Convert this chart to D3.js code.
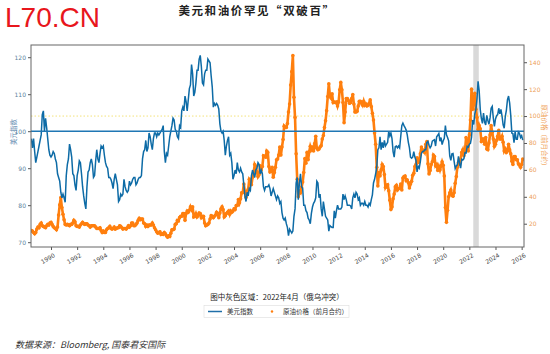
<!DOCTYPE html>
<html lang="zh">
<head>
<meta charset="utf-8">
<title>美元和油价罕见“双破百”</title>
<script src="https://d3js.org/d3.v7.min.js"></script>
<style>
    body { margin: 0; background: #fff; }
    .tick text { font-family: "DejaVu Sans", sans-serif; }
</style>
</head>
<body>
<div id="chart"></div>
<script>
// monthly values, first point = Jul 1988
const startYear = 1988.5;
const dxy = [
    98.0, 95.5, 98.0, 94.5, 91.5, 93.0,
    94.5, 96.0, 97.5, 99.0, 104.5, 105.5, 100.0, 103.5, 101.0, 98.0, 95.0, 93.5,
    93.0, 93.5, 94.5, 94.0, 92.5, 91.5, 88.5, 87.5, 86.5, 83.5, 82.0, 83.0,
    82.0, 80.8, 88.0, 91.0, 92.5, 96.5, 95.0, 93.0, 88.5, 88.0, 85.5, 84.0,
    88.0, 89.5, 92.0, 91.5, 88.5, 85.0, 82.5, 80.5, 79.0, 85.0, 89.0, 89.5,
    91.5, 92.5, 91.0, 87.5, 88.0, 92.0, 95.0, 92.5, 91.5, 94.0, 96.0, 95.5,
    96.0, 93.5, 91.5, 90.5, 90.0, 87.5, 87.5, 87.0, 86.0, 84.5, 87.0, 88.5,
    87.0, 85.5, 81.0, 81.5, 83.0, 82.5, 83.0, 87.0, 85.0, 84.0, 83.5, 84.0,
    86.5, 85.5, 86.0, 87.0, 87.5, 87.5, 85.5, 86.0, 87.0, 87.5, 87.5, 88.0,
    92.5, 94.5, 95.0, 97.5, 94.5, 95.5, 99.5, 98.5, 96.5, 95.0, 98.0, 99.5,
    99.5, 98.5, 99.5, 99.0, 99.5, 100.0, 100.5, 101.5, 94.5, 91.5, 94.0, 93.5,
    96.0, 98.5, 100.0, 101.5, 103.5, 103.0, 100.5, 100.0, 98.5, 98.0, 101.5, 101.0,
    105.5, 106.5, 105.5, 109.5, 108.0, 105.5, 108.5, 111.5, 112.5, 118.0, 115.5, 109.5,
    110.5, 113.0, 116.5, 116.5, 119.5, 120.5, 117.5, 113.0, 112.5, 115.5, 116.5, 116.5,
    119.5, 119.0, 118.5, 115.0, 112.0, 106.5, 107.5, 107.0, 107.5, 107.0, 106.0, 102.0,
    100.0, 99.5, 100.0, 97.5, 93.5, 96.0, 97.5, 98.5, 93.5, 94.0, 91.5, 87.0,
    88.0, 89.5, 88.5, 91.5, 89.5, 89.0, 90.0, 89.0, 88.5, 85.5, 82.5, 81.0,
    83.5, 82.5, 84.5, 84.0, 88.0, 89.5, 88.5, 87.5, 89.5, 90.0, 91.5, 91.0,
    88.5, 89.5, 88.5, 85.0, 84.0, 85.0, 85.0, 85.0, 85.5, 84.5, 82.5, 83.5,
    84.5, 83.5, 82.5, 81.5, 82.5, 82.0, 80.5, 81.0, 78.0, 76.5, 76.0, 76.5,
    75.0, 74.0, 71.8, 73.5, 73.0, 72.5, 73.0, 77.0, 79.0, 86.0, 87.5, 81.5,
    86.0, 88.5, 85.0, 84.5, 80.0, 80.0, 78.5, 78.0, 76.5, 76.0, 75.0, 77.8,
    79.5, 80.5, 81.0, 82.0, 86.5, 86.0, 82.0, 83.0, 79.0, 77.0, 81.0, 79.0,
    77.0, 76.5, 76.0, 73.0, 74.5, 74.2, 74.0, 74.0, 78.5, 76.5, 78.5, 80.0,
    79.0, 79.0, 79.0, 79.5, 83.0, 81.5, 82.5, 81.5, 80.0, 80.0, 80.0, 79.8,
    79.0, 82.0, 83.0, 82.0, 83.5, 83.0, 81.5, 82.0, 80.0, 80.5, 80.5, 80.0,
    81.0, 80.0, 80.0, 79.5, 80.5, 80.0, 81.5, 82.8, 86.0, 87.0, 88.5, 90.3,
    95.0, 95.5, 98.5, 95.0, 97.0, 95.5, 97.5, 96.0, 96.5, 97.0, 100.0, 98.7,
    99.5, 98.0, 94.5, 93.0, 95.8, 96.0, 95.5, 96.0, 95.5, 98.5, 101.5, 102.2,
    101.5, 101.0, 100.3, 99.0, 97.0, 95.5, 93.0, 92.7, 93.0, 94.5, 93.0, 92.1,
    89.0, 90.5, 90.0, 91.8, 94.0, 94.5, 94.5, 95.0, 95.0, 97.0, 97.3, 96.2,
    95.5, 96.0, 97.3, 97.5, 97.7, 96.0, 98.5, 98.9, 99.4, 97.3, 98.3, 96.4,
    97.4, 98.1, 101.5, 99.0, 98.3, 97.4, 93.3, 92.1, 93.9, 94.0, 91.9, 89.9,
    90.6, 90.9, 93.2, 91.3, 90.0, 92.4, 92.2, 92.6, 94.2, 94.1, 95.9, 95.7,
    96.5, 96.7, 98.3, 103.0, 101.8, 104.7, 105.9, 108.7, 113.5, 111.0, 105.9, 103.5,
    102.1, 104.9, 102.5, 101.7, 104.3, 102.9, 101.9, 103.6, 106.2, 106.7, 103.5, 101.3,
    103.3, 104.2, 104.5, 106.2, 104.7, 105.9, 104.1, 101.7, 100.8, 104.0, 105.7, 108.5,
    109.5, 107.6, 104.2, 99.5, 99.3, 96.9, 99.9, 97.8, 97.8, 99.8, 99.4, 98.3,
    98.8, 97.6
];
// front-month crude (Brent)
const crude = [
    15.0, 14.5, 13.5, 12.5, 13.5, 16.0,
    17.5, 17.0, 19.5, 20.5, 18.5, 18.0, 17.5, 17.0, 18.5, 19.5, 19.0, 20.5,
    21.0, 19.5, 18.0, 17.0, 16.5, 15.5, 17.5, 26.5, 34.0, 39.5, 32.0, 27.0,
    23.0, 19.5, 19.0, 19.5, 19.0, 18.5, 19.5, 19.5, 20.5, 22.5, 21.5, 18.5,
    18.0, 18.0, 17.5, 19.0, 20.0, 21.0, 20.0, 19.5, 20.0, 20.0, 19.0, 18.5,
    17.5, 18.5, 18.5, 18.5, 18.5, 17.5, 16.5, 16.5, 16.5, 17.0, 15.0, 13.5,
    14.5, 13.5, 13.5, 15.5, 16.5, 17.0, 18.0, 16.5, 16.0, 16.5, 17.5, 16.0,
    16.5, 17.0, 17.0, 18.5, 18.0, 17.0, 16.0, 16.5, 16.5, 16.0, 17.0, 18.5,
    17.5, 18.5, 20.5, 20.5, 18.5, 18.5, 19.5, 20.5, 22.5, 24.0, 23.0, 23.5,
    23.5, 20.5, 20.0, 18.0, 19.0, 18.0, 19.0, 19.0, 19.0, 20.5, 19.0, 17.0,
    15.5, 14.0, 13.0, 13.5, 14.0, 12.0, 12.5, 12.0, 13.5, 12.5, 11.0, 10.0,
    11.0, 10.5, 13.0, 15.5, 15.5, 16.0, 19.5, 20.0, 22.5, 22.0, 24.5, 25.5,
    25.5, 27.5, 27.5, 22.5, 27.5, 29.5, 28.5, 30.0, 32.5, 30.5, 32.5, 25.0,
    25.5, 27.5, 25.0, 26.0, 28.0, 27.5, 24.5, 25.5, 25.5, 20.5, 18.5, 19.0,
    19.5, 20.5, 23.5, 26.0, 25.5, 24.5, 25.5, 26.5, 28.5, 27.5, 24.5, 28.0,
    31.0, 32.5, 30.5, 25.0, 26.0, 27.5, 28.5, 29.5, 27.0, 29.5, 28.5, 29.5,
    31.0, 30.5, 33.5, 33.5, 38.0, 35.5, 38.5, 43.0, 43.0, 49.5, 43.5, 39.5,
    44.0, 45.5, 53.0, 52.0, 49.0, 54.5, 57.5, 64.0, 62.5, 58.5, 55.0, 56.5,
    63.0, 60.0, 62.5, 70.5, 70.0, 69.5, 74.0, 73.0, 62.5, 58.5, 59.0, 62.0,
    54.5, 58.0, 62.0, 67.5, 68.0, 71.0, 77.0, 71.0, 77.0, 82.5, 92.5, 91.5,
    91.5, 94.5, 103.0, 109.0, 123.0, 133.0, 145.0, 114.0, 99.0, 72.0, 53.0, 40.0,
    44.0, 43.0, 47.0, 51.0, 58.0, 68.5, 65.0, 73.0, 67.5, 73.5, 77.5, 75.0,
    76.5, 74.0, 79.5, 85.0, 76.0, 75.0, 75.5, 77.0, 78.0, 83.0, 85.5, 91.5,
    96.5, 104.0, 114.5, 124.0, 115.0, 113.5, 116.5, 110.0, 110.5, 110.0, 110.5, 107.5,
    110.5, 119.5, 125.0, 119.5, 110.0, 95.0, 103.0, 113.0, 113.0, 111.5, 109.5, 110.0,
    113.0, 116.0, 109.0, 103.0, 103.0, 103.5, 107.5, 111.0, 111.0, 109.5, 108.0, 111.0,
    108.0, 109.0, 107.5, 108.0, 109.5, 112.0, 107.0, 102.0, 97.0, 87.5, 79.0, 62.0,
    48.0, 58.0, 55.5, 60.0, 64.0, 62.5, 56.5, 47.0, 48.5, 49.0, 44.5, 37.5,
    30.5, 32.5, 38.5, 42.0, 47.5, 48.5, 45.0, 46.0, 46.5, 49.5, 45.0, 54.0,
    55.0, 55.5, 52.0, 52.5, 50.5, 46.5, 49.5, 51.5, 56.0, 57.5, 62.5, 64.0,
    69.0, 65.5, 66.0, 72.0, 77.0, 74.5, 74.5, 73.0, 79.0, 81.0, 64.5, 57.0,
    59.5, 64.0, 66.0, 71.0, 70.0, 63.0, 64.0, 59.5, 62.5, 60.0, 63.0, 66.0,
    63.5, 55.5, 32.0, 21.0, 30.0, 40.0, 43.0, 45.0, 41.0, 40.5, 43.0, 50.0,
    55.0, 62.0, 65.5, 64.5, 68.0, 73.0, 75.0, 70.5, 74.5, 84.0, 81.5, 74.0,
    86.0, 97.0, 120.0, 105.0, 112.0, 117.0, 105.0, 99.0, 90.0, 93.0, 90.5, 81.0,
    83.0, 83.0, 79.0, 84.0, 75.5, 75.0, 80.0, 86.0, 93.0, 88.0, 83.0, 77.5,
    79.0, 82.0, 85.0, 89.5, 83.0, 83.0, 85.0, 80.5, 74.0, 75.5, 73.0, 74.0,
    79.0, 75.0, 72.0, 66.5, 64.0, 70.0, 70.0, 67.5, 67.5, 64.5, 63.5, 62.0,
    64.0, 68.0
];
const yearTicks = d3.range(1990, 2027, 2);
const dxyTicks = [70, 80, 90, 100, 110, 120];
const oilTicks = [20, 40, 60, 80, 100, 120, 140];
const shadeBand = [2022.3, 2022.72];

const w = 550, h = 354;
const mLeft = 31, mRight = 524, mTop = 45, mBottom = 247;

const svg = d3.select("#chart").append("svg")
    .attr("width", w).attr("height", h);

const x = d3.scaleLinear().domain([1988.47, 2026.18]).range([mLeft, mRight]);
const yL = d3.scaleLinear().domain([68.7, 123.3]).range([mBottom, mTop]);
const yR = d3.scaleLinear().domain([2.7, 152.8]).range([mBottom, mTop]);

const dxyData = dxy.map((v, i) => ({t: startYear + i / 12, v: v}));
const oilData = crude.map((v, i) => ({t: startYear + i / 12, v: v}));

// watermark + title
svg.append("text").attr("x", 5).attr("y", 27)
    .style("font-family", "Liberation Sans, Arial, sans-serif")
    .style("font-size", "28px").style("fill", "#e8161c")
    .text("L70.CN");
svg.append("text").attr("x", 257).attr("y", 15).attr("text-anchor", "middle")
    .style("font-family", "Noto Sans CJK SC").style("font-weight", "bold")
    .style("font-size", "11.5px").style("letter-spacing", "1.6px").style("fill", "#222")
    .text("美元和油价罕见“双破百”");

const plot = svg.append("g");

// grey band
plot.append("rect")
    .attr("x", x(shadeBand[0])).attr("y", mTop)
    .attr("width", x(shadeBand[1]) - x(shadeBand[0])).attr("height", mBottom - mTop)
    .style("fill", "#d9d9d9");

// reference lines
plot.append("line")
    .attr("x1", mLeft).attr("x2", mRight).attr("y1", yR(100)).attr("y2", yR(100))
    .style("stroke", "#f3e27a").style("stroke-width", 1).style("stroke-dasharray", "1.5,2");

svg.append("clipPath").attr("id", "clip")
    .append("rect").attr("x", mLeft).attr("y", mTop).attr("width", mRight - mLeft).attr("height", mBottom - mTop);

// oil price as dense dots
const oilG = plot.append("g").attr("clip-path", "url(#clip)");
oilG.append("path").datum(oilData)
    .attr("d", d3.line().x(d => x(d.t)).y(d => yR(d.v)))
    .style("fill", "none").style("stroke", "#ff7f0e").style("stroke-width", 2.6);
oilG.selectAll("circle").data(oilData).enter().append("circle")
    .attr("cx", d => x(d.t)).attr("cy", d => yR(d.v)).attr("r", 1.8)
    .style("fill", "#ff7f0e");

// dollar index line
plot.append("path").datum(dxyData)
    .attr("clip-path", "url(#clip)")
    .attr("d", d3.line().x(d => x(d.t)).y(d => yL(d.v)))
    .style("fill", "none").style("stroke", "#0d6ba6").style("stroke-width", 1.5);

plot.append("line")
    .attr("x1", mLeft).attr("x2", mRight).attr("y1", yL(100)).attr("y2", yL(100))
    .style("stroke", "#1f77b4").style("stroke-width", 1.6);

// axes
const xAxis = svg.append("g").attr("transform", "translate(0," + mBottom + ")")
    .call(d3.axisBottom(x).tickValues(yearTicks).tickFormat(d3.format("d")).tickSize(3).tickPadding(2));
xAxis.selectAll("text")
    .attr("text-anchor", "end").attr("dx", "-0.2em").attr("dy", "0.9em")
    .attr("transform", "rotate(-30)")
    .style("font-size", "6px").style("fill", "#444");

const lAxis = svg.append("g").attr("transform", "translate(" + mLeft + ",0)")
    .call(d3.axisLeft(yL).tickValues(dxyTicks).tickSize(3).tickPadding(2));
lAxis.selectAll("text").style("font-size", "6px").style("fill", "#5b7f9e");

const rAxis = svg.append("g").attr("transform", "translate(" + mRight + ",0)")
    .call(d3.axisRight(yR).tickValues(oilTicks).tickSize(3).tickPadding(2));
rAxis.selectAll("text").style("font-size", "6px").style("fill", "#eda05a");

svg.selectAll(".domain").remove();
svg.selectAll(".tick line").style("stroke", "#555");

// frame
svg.append("rect").attr("x", mLeft).attr("y", mTop)
    .attr("width", mRight - mLeft).attr("height", mBottom - mTop)
    .style("fill", "none").style("stroke", "#666").style("stroke-width", 1);

// axis titles
svg.append("text").attr("transform", "translate(15.5,132) rotate(-90)")
    .attr("text-anchor", "middle")
    .style("font-family", "Noto Sans CJK SC").style("font-size", "6.5px").style("fill", "#5b86ad")
    .text("美元指数");
svg.append("text").attr("transform", "translate(541.5,137) rotate(90)")
    .attr("text-anchor", "middle")
    .style("font-family", "Noto Sans CJK SC").style("font-size", "6.5px").style("fill", "#f0a45c")
    .text("原油价格（前月合约）");

// note + legend
svg.append("text").attr("x", 277).attr("y", 299.5).attr("text-anchor", "middle")
    .style("font-family", "Noto Sans CJK SC").style("font-size", "7.5px").style("fill", "#222")
    .text("图中灰色区域：2022年4月（俄乌冲突）");

const legend = svg.append("g");
legend.append("rect").attr("x", 204).attr("y", 305.5).attr("width", 145).attr("height", 12)
    .style("fill", "#fff").style("stroke", "#ddd").style("stroke-width", 0.6);
legend.append("line").attr("x1", 208).attr("x2", 222).attr("y1", 311.5).attr("y2", 311.5)
    .style("stroke", "#1f6fa8").style("stroke-width", 1.5);
legend.append("text").attr("x", 227).attr("y", 314)
    .style("font-family", "Noto Sans CJK SC").style("font-size", "6.5px").style("fill", "#333")
    .text("美元指数");
legend.append("circle").attr("cx", 272).attr("cy", 311.5).attr("r", 1.2).style("fill", "#ff7f0e");
legend.append("text").attr("x", 283).attr("y", 314)
    .style("font-family", "Noto Sans CJK SC").style("font-size", "6.5px").style("fill", "#333")
    .text("原油价格（前月合约）");

// source
svg.append("text").attr("x", 15).attr("y", 347.5)
    .style("font-family", "Noto Sans CJK SC, Liberation Sans").style("font-style", "italic")
    .style("font-size", "9px").style("fill", "#333")
    .text("数据来源：Bloomberg, 国泰君安国际");
</script>
</body>
</html>
